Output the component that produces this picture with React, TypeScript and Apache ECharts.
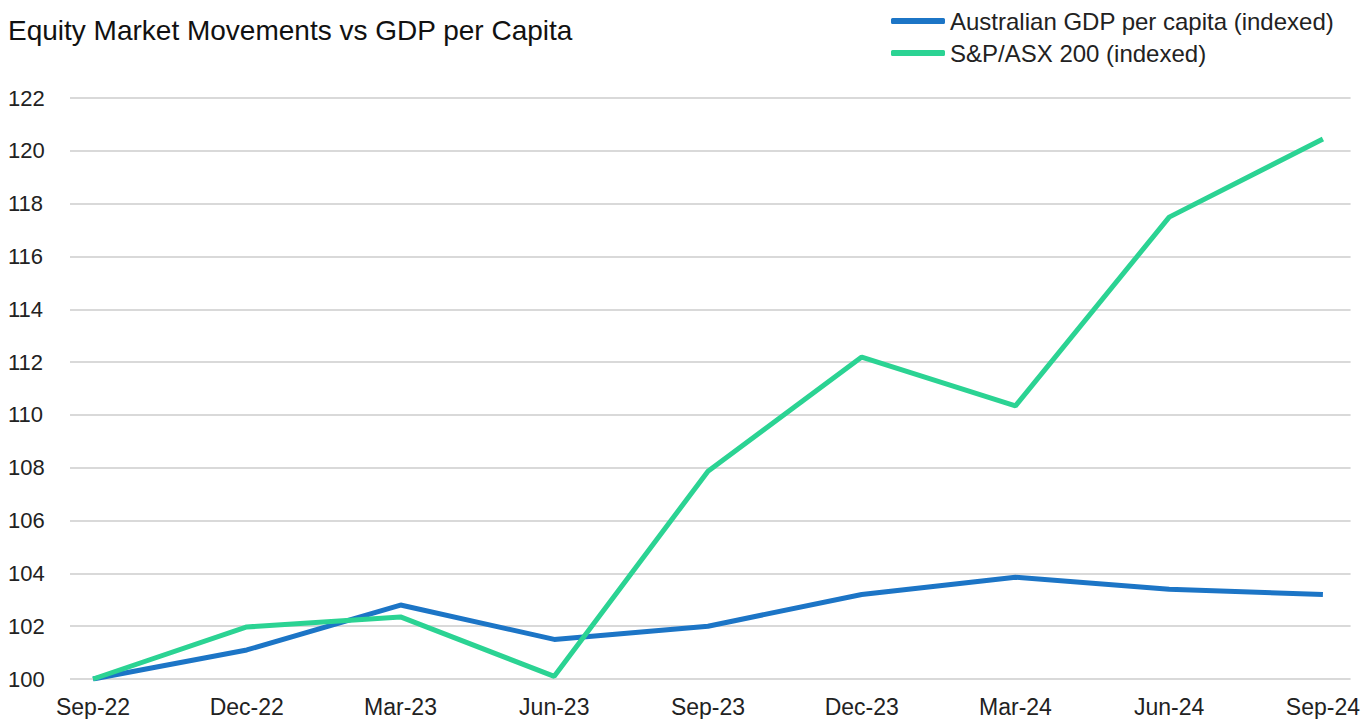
import React, { useEffect, useRef } from "react";
import * as echarts from "echarts";

const categories = ["Sep-22", "Dec-22", "Mar-23", "Jun-23", "Sep-23", "Dec-23", "Mar-24", "Jun-24", "Sep-24"];
const gdpPerCapita = [100, 101.1, 102.8, 101.5, 102.0, 103.2, 103.85, 103.4, 103.2];
const asx200 = [100, 101.97, 102.35, 100.1, 107.87, 112.19, 110.34, 117.49, 120.45];
const yTicks = [100, 102, 104, 106, 108, 110, 112, 114, 116, 118, 120, 122];

const FONT = "'Liberation Sans', Arial, Helvetica, sans-serif";

export default function App() {
  const ref = useRef<HTMLDivElement>(null);
  useEffect(() => {
    if (!ref.current) return;
    const chart = echarts.init(ref.current, undefined, { renderer: "svg" });
    const idx = categories.map((_, i) => i);
    chart.setOption({
      animation: false,
      backgroundColor: "#ffffff",
      title: {
        text: "Equity Market Movements vs GDP per Capita",
        left: 3,
        top: 11,
        textStyle: { fontFamily: FONT, fontSize: 28, fontWeight: "normal", color: "#111" },
      },
      legend: {
        orient: "vertical",
        left: 886,
        top: 4,
        itemWidth: 54,
        itemHeight: 6,
        itemGap: 8,
        icon: "roundRect",
        textStyle: { fontFamily: FONT, fontSize: 24, color: "#222" },
        data: ["Australian GDP per capita (indexed)", "S&P/ASX 200 (indexed)"],
      },
      grid: { left: 70, right: 11, top: 98, bottom: 40, containLabel: false },
      xAxis: {
        type: "value",
        min: -0.15,
        max: 8.18,
        axisLine: { show: false },
        axisTick: { show: false },
        splitLine: { show: false },
        axisLabel: {
          customValues: idx,
          formatter: (v: number) => categories[Math.round(v)] ?? "",
          fontFamily: FONT,
          fontSize: 23,
          color: "#222",
          margin: 16,
        },
      },
      yAxis: {
        type: "value",
        min: 100,
        max: 122,
        interval: 2,
        axisLine: { show: false },
        axisTick: { show: false },
        splitLine: { lineStyle: { color: "#d9d9d9", width: 2 } },
        axisLabel: {
          align: "left",
          margin: 62,
          fontFamily: FONT,
          fontSize: 22,
          color: "#222",
          formatter: (v: number) => (yTicks.includes(v) ? String(v) : ""),
        },
      },
      series: [
        {
          name: "Australian GDP per capita (indexed)",
          type: "line",
          data: gdpPerCapita.map((v, i) => [i, v]),
          symbol: "none",
          lineStyle: { width: 5, color: "#1c75c6" },
          itemStyle: { color: "#1c75c6" },
        },
        {
          name: "S&P/ASX 200 (indexed)",
          type: "line",
          data: asx200.map((v, i) => [i, v]),
          symbol: "none",
          lineStyle: { width: 5, color: "#2bd393" },
          itemStyle: { color: "#2bd393" },
        },
      ],
    });
    return () => chart.dispose();
  }, []);
  return (
    <div
      ref={ref}
      style={{ position: "fixed", left: 0, top: 0, width: 1363, height: 719 }}
    />
  );
}
